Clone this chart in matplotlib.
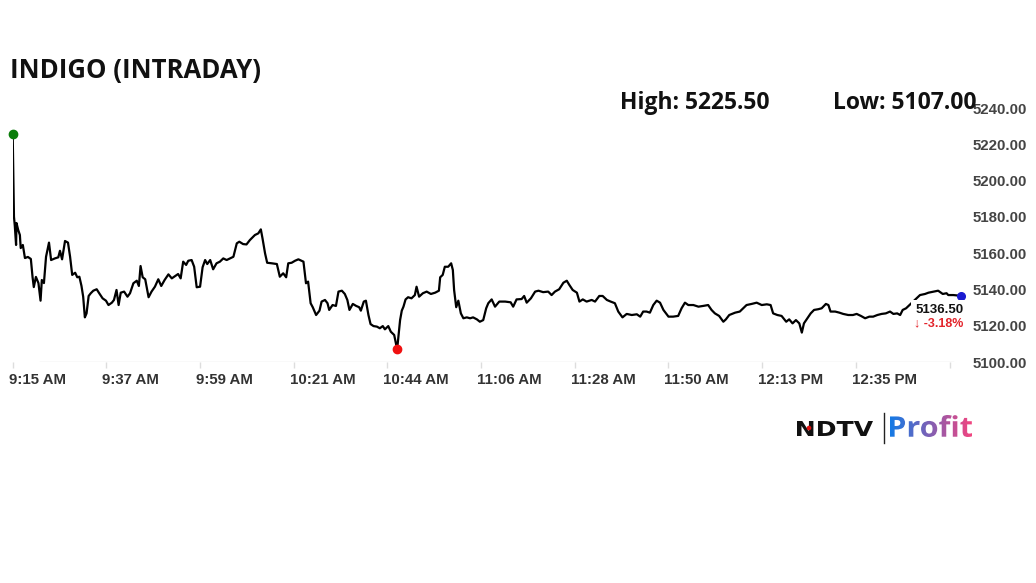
import numpy as np
import matplotlib
matplotlib.use('Agg')
import matplotlib.pyplot as plt
from matplotlib.textpath import TextPath
from matplotlib.font_manager import FontProperties
from matplotlib.patches import PathPatch, Circle
from matplotlib.transforms import Affine2D, ScaledTranslation

plt.rcParams['font.family'] = ['Liberation Sans', 'DejaVu Sans']

# minutes after 9:15 AM, and last traded price
minutes = [0.0, 0.3, 0.5, 0.8, 0.9, 1.3, 1.7, 1.9, 2.4, 2.9, 3.6, 4.3, 4.7, 5.0, 5.5, 6.1,
           6.6, 6.9, 7.4, 7.9, 8.6, 9.1, 10.0, 10.8, 11.2, 11.7, 12.4, 13.1, 13.6, 14.1,
           14.8, 15.3, 15.8, 16.3, 16.7, 17.1, 17.5, 18.0, 18.5, 19.1, 19.9, 20.5, 21.3,
           22.1, 22.7, 23.5, 24.0, 24.6, 25.1, 25.6, 26.4, 27.2, 27.8, 28.6, 29.4, 29.9,
           30.3, 30.8, 31.4, 32.2, 32.9, 33.7, 34.5, 35.2, 36.0, 36.9, 37.7, 38.5, 39.2,
           39.8, 40.4, 41.1, 41.6, 42.4, 43.0, 43.6, 44.4, 45.0, 45.6, 46.1, 46.8, 47.5,
           48.3, 49.1, 49.9, 50.7, 51.5, 52.3, 53.1, 53.7, 54.6, 55.4, 56.2, 57.4, 58.2,
           58.8, 59.2, 59.8, 60.3, 61.4, 62.6, 63.3, 64.1, 64.8, 65.3, 66.1, 66.9, 67.7,
           68.9, 69.5, 70.0, 70.6, 71.1, 71.9, 72.7, 73.2, 74.0, 74.6, 75.0, 75.8, 76.6,
           77.2, 78.0, 78.7, 79.3, 79.8, 80.6, 81.4, 82.1, 82.5, 83.2, 83.7, 84.3, 84.8,
           85.5, 86.3, 87.0, 87.7, 88.2, 89.0, 89.6, 90.4, 91.1, 91.8, 92.2, 92.6, 93.1,
           93.7, 94.5, 95.3, 95.7, 96.3, 97.2, 98.1, 99.1, 100.1, 101.0, 101.3, 101.9,
           102.4, 103.2, 103.9, 104.3, 104.6, 105.1, 105.6, 106.2, 106.8, 107.6, 108.4,
           109.1, 110.0, 110.7, 111.5, 112.2, 112.7, 113.5, 114.3, 115.3, 116.7, 118.0,
           118.6, 119.4, 120.6, 121.2, 121.8, 122.8, 123.8, 124.6, 125.7, 126.9, 127.7,
           128.5, 129.5, 130.5, 131.3, 131.9, 132.7, 133.7, 134.3, 135.1, 136.0, 137.2,
           138.0, 139.0, 139.8, 140.8, 141.7, 142.7, 143.5, 144.5, 145.5, 146.7, 147.9,
           148.7, 149.4, 150.2, 151.0, 151.8, 152.6, 153.4, 154.2, 155.4, 156.5, 157.7,
           158.5, 159.3, 160.1, 161.3, 162.5, 163.6, 164.8, 165.6, 166.4, 167.4, 168.4,
           169.0, 169.8, 171.2, 172.3, 173.1, 173.9, 175.1, 176.3, 177.5, 178.7, 179.6,
           180.2, 181.2, 182.2, 183.3, 184.0, 184.8, 185.6, 186.4, 187.0, 187.5, 188.3,
           189.1, 189.9, 190.9, 191.7, 192.7, 193.3, 193.8, 194.9, 195.9, 196.8, 198.0,
           199.1, 200.0, 201.0, 202.0, 203.0, 203.9, 204.9, 205.9, 206.9, 207.9, 208.7,
           209.6, 210.3, 210.9, 211.7, 215.0, 216.2, 217.0, 218.2, 219.3, 220.4, 221.3,
           221.7, 222.9, 224.6]
prices = [5225.5, 5180.1, 5175.0, 5164.5, 5176.6, 5172.8, 5170.0, 5162.8, 5164.5, 5157.3,
          5157.9, 5156.8, 5146.9, 5141.3, 5146.9, 5143.5, 5133.8, 5145.2, 5143.5, 5158.0,
          5165.8, 5156.2, 5157.1, 5157.7, 5161.3, 5156.6, 5166.7, 5165.8, 5158.0, 5148.0,
          5149.2, 5146.7, 5147.0, 5141.9, 5136.0, 5124.6, 5126.8, 5136.4, 5137.9, 5139.3,
          5140.1, 5137.9, 5135.1, 5133.8, 5131.4, 5132.7, 5134.2, 5139.7, 5131.4, 5138.2,
          5138.8, 5136.0, 5137.9, 5143.4, 5144.8, 5141.9, 5152.9, 5146.7, 5145.6, 5135.7,
          5138.8, 5141.5, 5145.6, 5141.9, 5145.2, 5148.3, 5146.1, 5147.4, 5148.5, 5146.1,
          5155.3, 5153.5, 5155.8, 5156.2, 5152.5, 5141.2, 5141.5, 5152.2, 5156.2, 5154.0,
          5156.2, 5151.1, 5154.4, 5155.3, 5157.1, 5156.2, 5157.1, 5158.0, 5165.4, 5166.3,
          5165.0, 5164.8, 5167.2, 5170.0, 5170.9, 5173.1, 5168.1, 5159.9, 5154.7, 5154.4,
          5154.0, 5147.0, 5148.9, 5146.7, 5154.4, 5154.7, 5155.8, 5156.6, 5155.3, 5143.4,
          5144.3, 5132.4, 5130.2, 5125.9, 5128.3, 5133.3, 5134.2, 5132.4, 5128.7, 5131.4,
          5130.9, 5138.8, 5139.3, 5137.5, 5134.2, 5128.7, 5132.0, 5130.9, 5130.2, 5128.3,
          5133.3, 5133.8, 5125.9, 5120.9, 5119.8, 5119.5, 5118.6, 5119.8, 5118.0, 5119.8,
          5116.7, 5114.9, 5107.0, 5123.1, 5128.3, 5130.5, 5134.5, 5135.7, 5135.1, 5136.9,
          5141.5, 5136.0, 5137.9, 5138.8, 5137.5, 5138.2, 5139.3, 5146.7, 5148.0, 5152.5,
          5152.5, 5154.4, 5150.7, 5139.7, 5130.2, 5133.8, 5126.8, 5124.1, 5124.6, 5124.1,
          5124.6, 5123.5, 5122.2, 5123.1, 5129.6, 5132.4, 5134.5, 5130.5, 5133.3, 5133.3,
          5132.9, 5130.5, 5134.5, 5134.7, 5136.4, 5132.7, 5135.1, 5138.8, 5139.3, 5138.5,
          5138.8, 5136.9, 5138.8, 5140.1, 5143.7, 5144.8, 5142.5, 5139.7, 5138.2, 5133.3,
          5134.5, 5133.3, 5134.2, 5133.3, 5136.4, 5136.4, 5134.2, 5133.3, 5132.4, 5127.8,
          5124.6, 5126.5, 5125.9, 5126.3, 5125.0, 5127.8, 5127.8, 5127.2, 5131.4, 5133.8,
          5132.7, 5128.7, 5125.0, 5125.0, 5125.4, 5129.6, 5132.7, 5131.4, 5131.4, 5130.5,
          5130.9, 5131.4, 5128.7, 5126.8, 5125.4, 5122.2, 5123.5, 5125.9, 5127.2, 5127.8,
          5129.6, 5131.4, 5132.0, 5132.7, 5131.4, 5131.8, 5131.4, 5126.8, 5125.9, 5125.4,
          5122.2, 5123.5, 5121.3, 5123.1, 5121.3, 5116.2, 5121.3, 5124.1, 5126.8, 5128.7,
          5129.1, 5129.6, 5132.0, 5131.4, 5127.8, 5127.8, 5127.2, 5126.5, 5125.9, 5125.9,
          5126.5, 5125.4, 5124.1, 5125.0, 5125.0, 5125.9, 5126.5, 5126.8, 5127.8, 5126.5,
          5126.8, 5125.9, 5128.7, 5129.6, 5136.9, 5137.5, 5138.2, 5138.8, 5139.3, 5137.5,
          5137.9, 5136.9, 5136.9, 5136.5]

x_tick_labels = ['9:15 AM', '9:37 AM', '9:59 AM', '10:21 AM', '10:44 AM', '11:06 AM',
                 '11:28 AM', '11:50 AM', '12:13 PM', '12:35 PM', '']
y_ticks = [5100, 5120, 5140, 5160, 5180, 5200, 5220, 5240]

stock = 'INDIGO'
day_high = 5225.50
day_low = 5107.00
last_price = 5136.50
change_pct = -3.18

W, H = 1036, 583
fig = plt.figure(figsize=(W / 100, H / 100), dpi=100)
ax = fig.add_axes([12.7 / W, (H - 362) / H, 947.8 / W, 254 / H])

ax.plot(minutes, prices, color='black', lw=1.6, zorder=3)

i_hi = int(np.argmax(prices))
i_lo = int(np.argmin(prices))
ax.plot(minutes[i_hi], prices[i_hi], 'o', color='#0a7d0a', ms=6, zorder=4, clip_on=False)
ax.plot(minutes[i_lo], prices[i_lo], 'o', color='#f01010', ms=6, zorder=4, clip_on=False)
ax.plot(minutes[-1], prices[-1], 'o', color='#1a1ad0', ms=5.5, zorder=4, clip_on=False)

ax.set_xlim(0, 224.6)
ax.set_ylim(5100, 5240)
for s in ax.spines.values():
    s.set_visible(False)
ax.axhline(5100, xmin=0.029, xmax=0.992, color='#e4e4e4', lw=1, zorder=1)

ax.set_xticks(np.arange(len(x_tick_labels)) * 22.2)
ax.set_xticklabels(x_tick_labels)
ax.tick_params(axis='x', length=4, width=1, color='#dddddd', pad=4,
               labelsize=10.8, labelcolor='#333333')
shift = ScaledTranslation(-4 / 100, 0, fig.dpi_scale_trans)
for lbl in ax.get_xticklabels():
    lbl.set_ha('left')
    lbl.set_fontweight('bold')
    lbl.set_transform(lbl.get_transform() + shift)

ax.yaxis.tick_right()
ax.set_yticks(y_ticks)
ax.set_yticklabels(['%.2f' % v for v in y_ticks])
ax.tick_params(axis='y', length=0, pad=8.5, labelsize=10.8, labelcolor='#444444')
for lbl in ax.get_yticklabels():
    lbl.set_fontweight('bold')

ax.annotate('%.2f' % last_price, xy=(minutes[-1], prices[-1]), xytext=(3, -14),
            textcoords='offset pixels', ha='right', va='center', fontsize=9.5,
            weight='bold', color='#111111', annotation_clip=False, zorder=5,
            bbox=dict(fc='white', ec='none', pad=3))
ax.annotate('\u2193 %.2f%%' % change_pct, xy=(minutes[-1], prices[-1]), xytext=(3, -28),
            textcoords='offset pixels', ha='right', va='center', fontsize=9,
            weight='bold', color='#e3242b', annotation_clip=False, zorder=5)

fig.text(10 / W, 1 - 78 / H, stock + ' (INTRADAY)', fontsize=18.5, weight='bold',
         family=['Open Sans', 'DejaVu Sans'], va='baseline', color='#111111')
fig.text(620 / W, 1 - 109 / H, 'High: %.2f' % day_high, fontsize=16.5, weight='bold',
         family=['Open Sans', 'DejaVu Sans'], va='baseline', color='#111111', zorder=10)
fig.text(833 / W, 1 - 109 / H, 'Low: %.2f' % day_low, fontsize=16.5, weight='bold',
         family=['Open Sans', 'DejaVu Sans'], va='baseline', color='#111111', zorder=10)

# logo, drawn on an overlay in pixel coordinates
lay = fig.add_axes([0, 0, 1, 1], zorder=-1)
lay.set_axis_off()


def fitted_path(s, prop, x0, x1, y_top, y_base):
    tp = TextPath((0, 0), s, size=100, prop=prop)
    ext = tp.get_extents()
    tr = (Affine2D().translate(-ext.x0, -ext.y0)
          .scale((x1 - x0) / ext.width, -(y_base - y_top) / ext.height)
          .translate(x0, y_base))
    return tr.transform_path(tp)


ndtv = fitted_path('NDTV', FontProperties(family='DejaVu Sans', weight='bold'),
                   797, 873, 421, 436)
lay.add_patch(PathPatch(ndtv, fc='#111111', ec='none'))
lay.add_patch(Circle((809, 428), 2.3, fc='#e01010', ec='none'))
lay.plot([884, 884], [413, 443], color='#222222', lw=1)

profit = fitted_path('Profit', FontProperties(family='Open Sans', weight='bold'),
                     890, 972, 415, 437)
grad = np.linspace(0, 1, 200)
c0 = np.array([0.08, 0.48, 0.90])
c1 = np.array([0.95, 0.27, 0.50])
img = (c0[None, :] * (1 - grad[:, None]) + c1[None, :] * grad[:, None])[None, :, :]
im = lay.imshow(img, extent=(890, 972, 437, 415), aspect='auto', interpolation='bilinear')
clip = PathPatch(profit, fc='none', ec='none', transform=lay.transData)
lay.add_patch(clip)
im.set_clip_path(clip)
lay.set_xlim(0, W)
lay.set_ylim(H, 0)

fig.savefig('out.png', dpi=100, facecolor='white')
